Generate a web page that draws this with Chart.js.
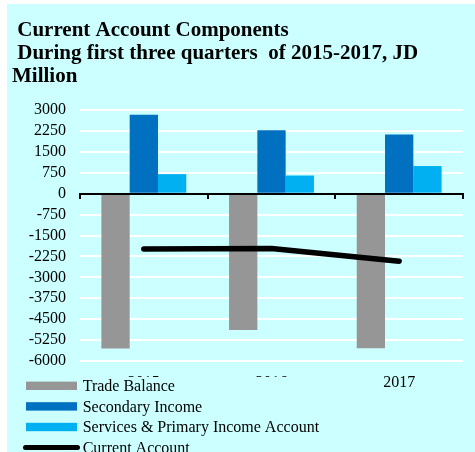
<!DOCTYPE html>
<html>
<head>
<meta charset="utf-8">
<script src="https://cdn.jsdelivr.net/npm/chart.js@4.4.1/dist/chart.umd.min.js"></script>
<style>
  html, body { margin: 0; padding: 0; background: #ffffff; }
  #wrap { position: absolute; left: 7px; top: 4px; width: 468px; height: 448px; background: #ccffff; }
  canvas { display: block; }
</style>
</head>
<body>
<div id="wrap"><canvas id="c" width="468" height="448"></canvas></div>
<script>
// Current account components, first three quarters, JD million
const years = ['2015', '2016', '2017'];
const tradeBalance = [-5550, -4890, -5540];
const secondaryIncome = [2830, 2270, 2120];
const servicesPrimary = [700, 650, 990];
const currentAccount = [-1980, -1970, -2420];
const titleLines = [' Current Account Components', ' During first three quarters  of 2015-2017, JD', 'Million'];

const SERIF = "'Liberation Serif', 'Times New Roman', serif";
const BG = '#ccffff';

// Legend drawn on its own panel, overlapping the lower axis labels
const panelLegend = {
  id: 'panelLegend',
  afterDraw(chart) {
    const ctx = chart.ctx;
    ctx.save();
    ctx.fillStyle = BG;
    ctx.fillRect(0, 373, 313, 75);
    ctx.font = '16px ' + SERIF;
    ctx.textBaseline = 'middle';
    ctx.textAlign = 'left';
    chart.data.datasets.forEach((ds, i) => {
      const cy = 381.8 + i * 20.6;
      if (ds.type === 'line') {
        ctx.strokeStyle = ds.borderColor;
        ctx.lineWidth = 5;
        ctx.lineCap = 'round';
        ctx.beginPath();
        ctx.moveTo(18.5, cy);
        ctx.lineTo(70.5, cy);
        ctx.stroke();
      } else {
        ctx.fillStyle = ds.backgroundColor;
        ctx.fillRect(19, cy - 4.2, 51, 8.4);
      }
      ctx.fillStyle = '#000000';
      ctx.fillText(ds.label, 75.7, cy + 1);
    });
    ctx.restore();
  }
};

new Chart(document.getElementById('c'), {
  type: 'bar',
  data: {
    labels: years,
    datasets: [
      { label: 'Trade Balance', data: tradeBalance, backgroundColor: '#969696', order: 1 },
      { label: 'Secondary Income', data: secondaryIncome, backgroundColor: '#0070c0', order: 1 },
      { label: 'Services & Primary Income Account', data: servicesPrimary, backgroundColor: '#00b0f0', order: 1 },
      { label: 'Current Account', data: currentAccount, type: 'line', borderColor: '#000000',
        borderWidth: 5.5, borderCapStyle: 'round', borderJoinStyle: 'round',
        pointRadius: 0, fill: false, tension: 0, order: -1 }
    ]
  },
  options: {
    responsive: false,
    animation: false,
    layout: { padding: { left: 5, right: 12, top: 0, bottom: 0 } },
    datasets: { bar: { categoryPercentage: 0.665, barPercentage: 1.0 } },
    plugins: {
      legend: { display: false },
      tooltip: { enabled: false },
      title: {
        display: true,
        text: titleLines,
        align: 'start',
        color: '#000000',
        font: { family: SERIF, size: 21, weight: 'bold', lineHeight: 1.1 },
        padding: { top: 15.3, bottom: 21.4 }
      }
    },
    scales: {
      x: {
        type: 'category',
        position: 'bottom',
        offset: true,
        grid: { display: false, drawTicks: false },
        border: { display: false },
        ticks: { color: '#000000', font: { family: SERIF, size: 16 }, padding: 12 },
        afterFit(s) { s.height = 91; }
      },
      xZero: {
        type: 'category',
        axis: 'x',
        labels: years,
        position: { y: 0 },
        offset: true,
        grid: { display: true, offset: true, drawOnChartArea: false, drawTicks: true, tickLength: 4, color: '#000000', lineWidth: 2 },
        border: { display: true, color: '#000000', width: 2, z: 1 },
        ticks: { display: false }
      },
      y: {
        min: -6000,
        max: 3000,
        grid: { color: '#ffffff', lineWidth: 2, drawTicks: false },
        border: { display: false },
        ticks: {
          stepSize: 750,
          autoSkip: false,
          color: '#000000',
          padding: 14,
          font: { family: SERIF, size: 16 },
          callback: v => String(v)
        },
        afterFit(s) { s.width = 68; }
      }
    }
  },
  plugins: [panelLegend]
});
</script>
</body>
</html>
